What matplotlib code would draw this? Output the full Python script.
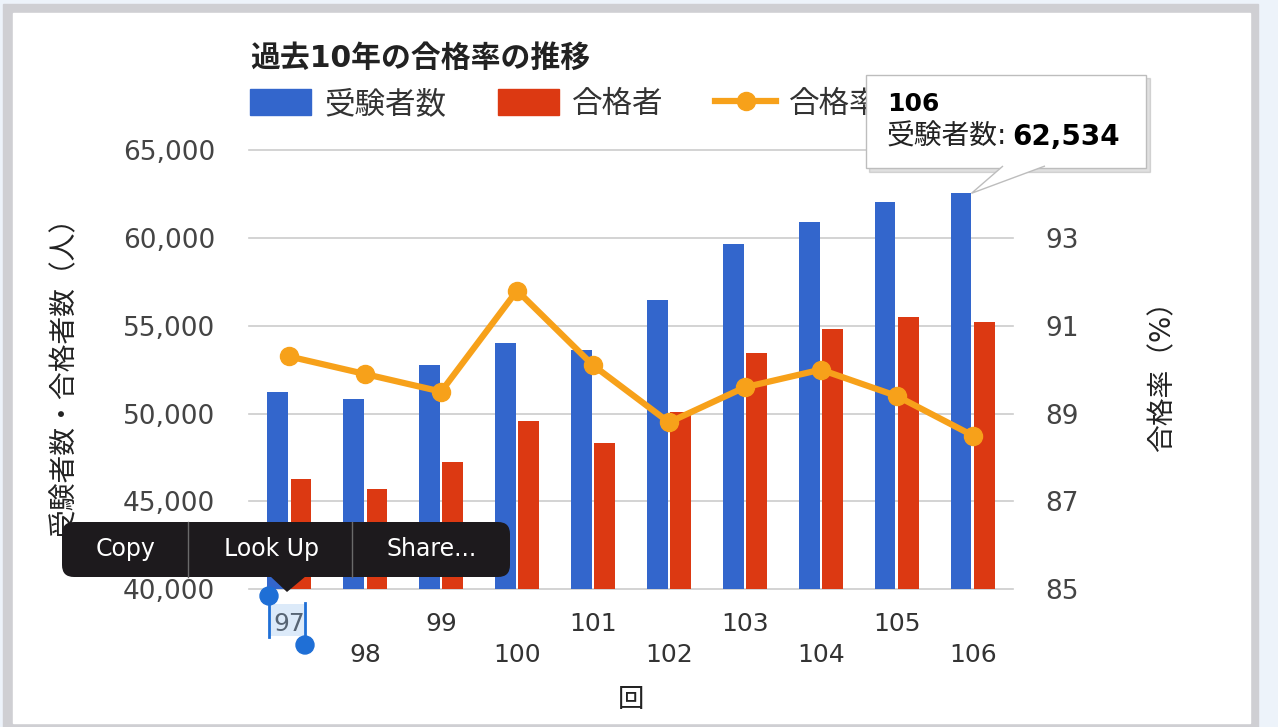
import matplotlib
matplotlib.use("Agg")
import matplotlib.pyplot as plt
import numpy as np
from matplotlib.patches import Rectangle, FancyBboxPatch, Polygon, Circle
from matplotlib.lines import Line2D
from matplotlib.transforms import Affine2D
from matplotlib.ticker import FuncFormatter

plt.rcParams['font.family'] = ['DejaVu Sans', 'Noto Sans CJK JP']

# data
categories = ['97', '98', '99', '100', '101', '102', '103', '104', '105', '106']
examinees = [51250, 50840, 52770, 54010, 53590, 56480, 59660, 60900, 62020, 62534]
passed = [46280, 45730, 47270, 49580, 48350, 50110, 53470, 54840, 55520, 55240]
pass_rate = [90.3, 89.9, 89.5, 91.8, 90.1, 88.8, 89.6, 90.0, 89.4, 88.5]
series_names = ['受験者数', '合格者', '合格率']

blue = '#3366cc'
red = '#dc3912'
orange = '#f7a11a'

W, H = 1278, 727
fig = plt.figure(figsize=(W / 100, H / 100), dpi=100, facecolor='#edf3fa')
# pixel coords, origin top-left
pix = Affine2D().scale(1 / W, -1 / H).translate(0, 1) + fig.transFigure

# screenshot frame
fig.add_artist(Rectangle((3, 4), 1255, 723, transform=pix, color='#cfcfd3', zorder=-3))
fig.add_artist(Rectangle((13, 13), 1237, 710, transform=pix, color='white', zorder=-2))

ax = fig.add_axes([249 / W, 1 - 589.3 / H, 764 / W, 439.3 / H])
ax.patch.set_visible(False)

x = np.arange(len(categories))
bw = 0.275
off = 0.155
ax.bar(x - off, examinees, bw, color=blue, zorder=2)
ax.bar(x + off, passed, bw, color=red, zorder=2)

ax.set_xlim(-0.53, 9.53)
ax.set_ylim(40000, 65000)
ax.set_yticks(range(40000, 65001, 5000))
ax.yaxis.set_major_formatter(FuncFormatter(lambda v, p: f"{int(v):,}"))
ax.grid(axis='y', color='#cccccc', lw=1.2, zorder=0)
ax.set_axisbelow(True)
for gl in ax.get_ygridlines():
    gl.set_clip_on(False)

ax.set_xticks(x[::2], categories[::2])
ax.set_xticks(x[1::2], categories[1::2], minor=True)
ax.tick_params(axis='x', which='both', length=0, labelsize=18, labelcolor='#333333')
ax.tick_params(axis='x', which='major', pad=16.5)
ax.tick_params(axis='x', which='minor', pad=39)
ax.tick_params(axis='y', length=0, pad=24.5, labelsize=19, labelcolor='#444444')

ax2 = ax.twinx()
ax2.plot(x, pass_rate, color=orange, lw=4.5, marker='o', ms=13, zorder=3)
ax2.set_ylim(85, 95)
ax2.set_yticks([85, 87, 89, 91, 93])
ax2.tick_params(axis='y', length=0, pad=23, labelsize=19, labelcolor='#444444')

for a in (ax, ax2):
    for s in a.spines.values():
        s.set_visible(False)

ax.set_ylabel('受験者数・合格者数（人）', fontsize=20, labelpad=32, color='#222222')
ax2.set_ylabel('合格率（%）', fontsize=20, labelpad=50, rotation=90, color='#222222')
ax.set_xlabel('回', fontsize=19, labelpad=14, color='#222222')

fig.text(250 / W, 1 - 58 / H, '過去10年の合格率の推移', fontsize=21.5,
         fontweight='bold', va='center', color='#222222')

handles = [Rectangle((0, 0), 1, 1, color=blue),
           Rectangle((0, 0), 1, 1, color=red),
           Line2D([], [], color=orange, lw=4.5, marker='o', ms=13)]
fig.legend(handles, series_names, loc='center left',
           bbox_to_anchor=(250 / W, 1 - 104 / H), ncol=3, frameon=False,
           fontsize=22, handlelength=2.0, handleheight=0.9, handletextpad=0.42,
           columnspacing=1.7, borderpad=0, borderaxespad=0, labelcolor='#333333')

# tooltip for 106
tip = ax.transData.transform((x[9] - off + bw / 2, examinees[9]))
tip_px = (tip[0], H - tip[1])
fig.add_artist(Rectangle((869, 78), 281, 94, transform=pix, color='#000000',
                         alpha=0.12, zorder=9))
fig.add_artist(Rectangle((866, 75), 280, 93, transform=pix, fc='white',
                         ec='#bdbdbd', lw=1, zorder=10))
fig.add_artist(Polygon([(1003, 166), tip_px, (1045, 166)], closed=False,
                       transform=pix, fc='white', ec='#bdbdbd', lw=1, zorder=10.5))
fig.text(887, 104, categories[9], transform=pix, fontsize=18, fontweight='bold',
         va='center', color='#000000', zorder=11)
t1 = fig.text(887, 137, '受験者数:', transform=pix, fontsize=20, va='center',
              color='#222222', zorder=11)
r = fig.canvas.get_renderer()
bb = t1.get_window_extent(renderer=r)
fig.text(bb.x1 + 5, 137, f"{examinees[9]:,}", transform=pix, fontsize=20,
         fontweight='bold', va='center', color='#000000', zorder=11)

# iOS text selection popup
fig.add_artist(FancyBboxPatch((62, 522), 448, 55, boxstyle='round,pad=0,rounding_size=12',
                              transform=pix, fc='#1d1a1d', ec='none', zorder=12))
fig.add_artist(Polygon([(270, 576), (306, 576), (287, 592)], transform=pix,
                       fc='#1d1a1d', ec='none', zorder=12))
for dx in (188, 352):
    fig.add_artist(Line2D([dx, dx], [522, 577], transform=pix, color='#6a6a6a',
                          lw=1, zorder=12.5))
for label, cx in (('Copy', 126), ('Look Up', 272), ('Share...', 432)):
    fig.text(cx, 549, label, transform=pix, fontsize=17, color='white',
             ha='center', va='center', zorder=13)

fig.add_artist(Rectangle((269, 604), 36, 32, transform=pix, fc='#9cc3ee',
                         alpha=0.35, zorder=12))
fig.add_artist(Line2D([269, 269], [596, 637], transform=pix, color='#1f6fd6', lw=2, zorder=12))
fig.add_artist(Line2D([305, 305], [603, 645], transform=pix, color='#1f6fd6', lw=2, zorder=12))
fig.add_artist(Circle((269, 596), 9, transform=pix, color='#1f6fd6', zorder=12))
fig.add_artist(Circle((305, 645), 9, transform=pix, color='#1f6fd6', zorder=12))

fig.savefig('out.png', dpi=100, facecolor=fig.get_facecolor())
